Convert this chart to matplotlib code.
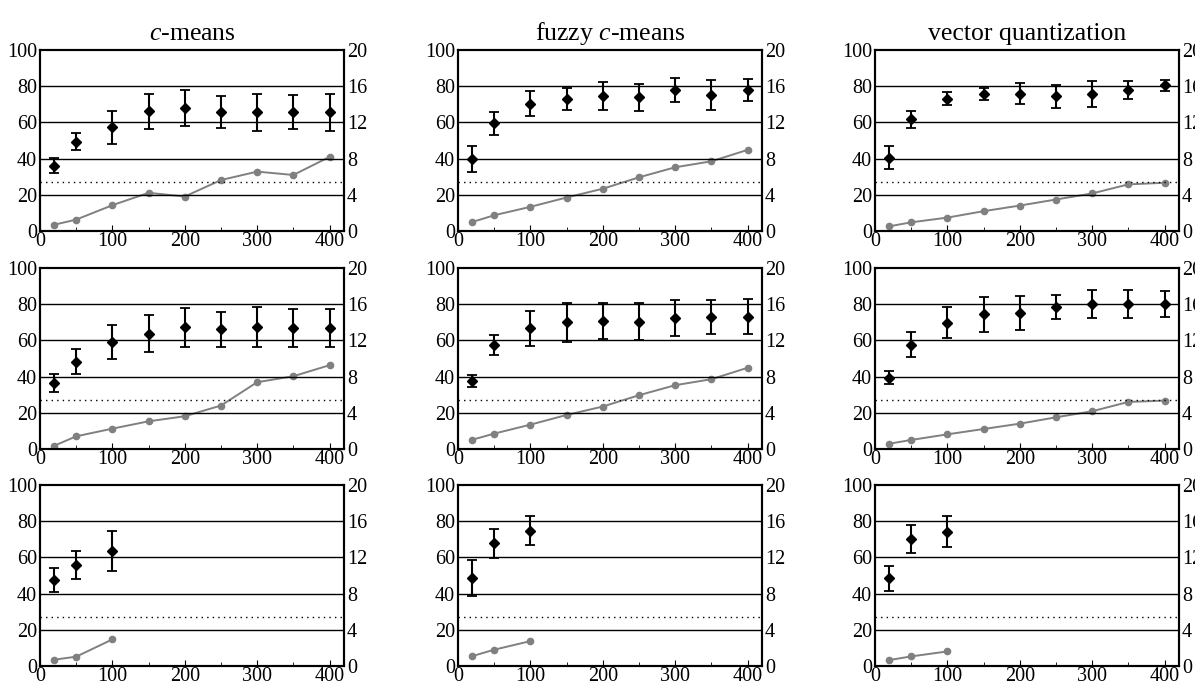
import matplotlib
matplotlib.use("Agg")
import matplotlib.pyplot as plt
from matplotlib.ticker import MultipleLocator

plt.rcParams['font.family'] = ['Liberation Serif', 'DejaVu Serif']
plt.rcParams['mathtext.fontset'] = 'custom'
plt.rcParams['mathtext.rm'] = 'Liberation Serif'
plt.rcParams['mathtext.it'] = 'Liberation Serif:italic'

titles = ["$c$-means", "fuzzy $c$-means", "vector quantization"]
sizes = [20, 50, 100, 150, 200, 250, 300, 350, 400]

# mean accuracy (left axis) per panel, rows x columns
acc_mean = [
    [[36.1, 49.4, 57.2, 66.1, 68.0, 65.7, 65.6, 65.7, 65.7],
     [39.8, 59.6, 70.4, 73.1, 74.4, 73.9, 77.8, 75.4, 78.0],
     [40.6, 61.7, 73.1, 75.7, 75.9, 74.4, 75.9, 77.8, 80.4]],
    [[36.3, 48.3, 58.9, 63.7, 67.3, 66.1, 67.3, 66.8, 66.8],
     [37.6, 57.6, 66.8, 69.9, 70.5, 70.3, 72.5, 72.9, 73.2],
     [39.5, 57.6, 69.7, 74.4, 75.1, 78.4, 80.1, 80.1, 80.1]],
    [[47.5, 55.6, 63.5],
     [48.6, 67.7, 74.7],
     [48.4, 70.1, 74.3]],
]
# half-width of error bars
acc_err = [
    [[4.0, 4.7, 9.2, 9.6, 10.0, 8.9, 10.2, 9.6, 10.2],
     [7.0, 6.3, 7.0, 6.0, 7.7, 7.4, 6.8, 8.3, 6.2],
     [6.4, 4.6, 3.5, 3.5, 6.0, 6.5, 7.2, 5.0, 3.2]],
    [[5.0, 6.8, 9.4, 10.2, 10.8, 9.5, 11.2, 10.4, 10.5],
     [3.4, 5.5, 9.7, 10.6, 9.9, 10.3, 9.9, 9.3, 9.5],
     [3.6, 6.9, 8.6, 9.8, 9.2, 6.7, 7.7, 7.5, 7.4]],
    [[6.6, 7.8, 11.1],
     [9.9, 8.1, 7.9],
     [7.0, 7.9, 8.3]],
]
# second quantity (right axis)
time_vals = [
    [[0.70, 1.26, 2.85, 4.22, 3.81, 5.63, 6.56, 6.19, 8.19],
     [1.00, 1.74, 2.67, 3.70, 4.67, 5.93, 7.04, 7.70, 8.96],
     [0.52, 0.96, 1.48, 2.19, 2.81, 3.48, 4.15, 5.15, 5.33]],
    [[0.37, 1.40, 2.25, 3.06, 3.62, 4.80, 7.38, 8.04, 9.26],
     [1.03, 1.70, 2.69, 3.76, 4.69, 5.94, 7.05, 7.71, 8.97],
     [0.59, 1.00, 1.62, 2.21, 2.80, 3.50, 4.17, 5.20, 5.35]],
    [[0.70, 1.03, 2.94],
     [1.10, 1.80, 2.75],
     [0.66, 1.06, 1.61]],
]
baseline = 27

W, H = 1195, 686
fig = plt.figure(figsize=(W / 100, H / 100), dpi=100)

col_left = [40, 458, 875]
row_top = [50, 268, 485]
aw, ah = 304, 181
fs = 14.5

for r in range(3):
    for c in range(3):
        ax = fig.add_axes([col_left[c] / W, (H - row_top[r] - ah) / H, aw / W, ah / H])
        ax2 = ax.twinx()
        ax.set_xlim(0, 420)
        ax.set_ylim(0, 100)
        ax2.set_ylim(0, 20)
        ax.set_yticks([0, 20, 40, 60, 80, 100])
        ax2.set_yticks([0, 4, 8, 12, 16, 20])
        ax.xaxis.set_major_locator(MultipleLocator(100))
        ax.xaxis.set_minor_locator(MultipleLocator(50))
        for g in [20, 40, 60, 80]:
            ax.axhline(g, color='black', lw=1.0, zorder=1)
        ax.axhline(baseline, color='black', lw=1.0, ls=(0, (1, 3)), zorder=1)

        n = len(acc_mean[r][c])
        xs = sizes[:n]
        ax2.plot(xs, time_vals[r][c], color='#808080', lw=1.4, marker='o',
                 markersize=4.5, zorder=3)
        ax.errorbar(xs, acc_mean[r][c], yerr=acc_err[r][c], fmt='D', color='black',
                    markersize=5.5, capsize=3.5, elinewidth=1.5, capthick=1.3, zorder=4)
        ax.set_zorder(ax2.get_zorder() + 1)
        ax.patch.set_visible(False)

        for a in (ax, ax2):
            for s in a.spines.values():
                s.set_linewidth(1.5)
        ax.tick_params(axis='both', which='both', direction='in', labelsize=fs)
        ax.tick_params(axis='x', which='major', length=4, pad=1)
        ax.tick_params(axis='x', which='minor', length=3)
        ax.tick_params(axis='y', length=0, pad=2)
        ax2.tick_params(axis='y', direction='in', length=0, pad=2, labelsize=fs)
        if r == 0:
            ax.set_title(titles[c], fontsize=18.5, pad=7)

fig.savefig("out.png", dpi=100)
